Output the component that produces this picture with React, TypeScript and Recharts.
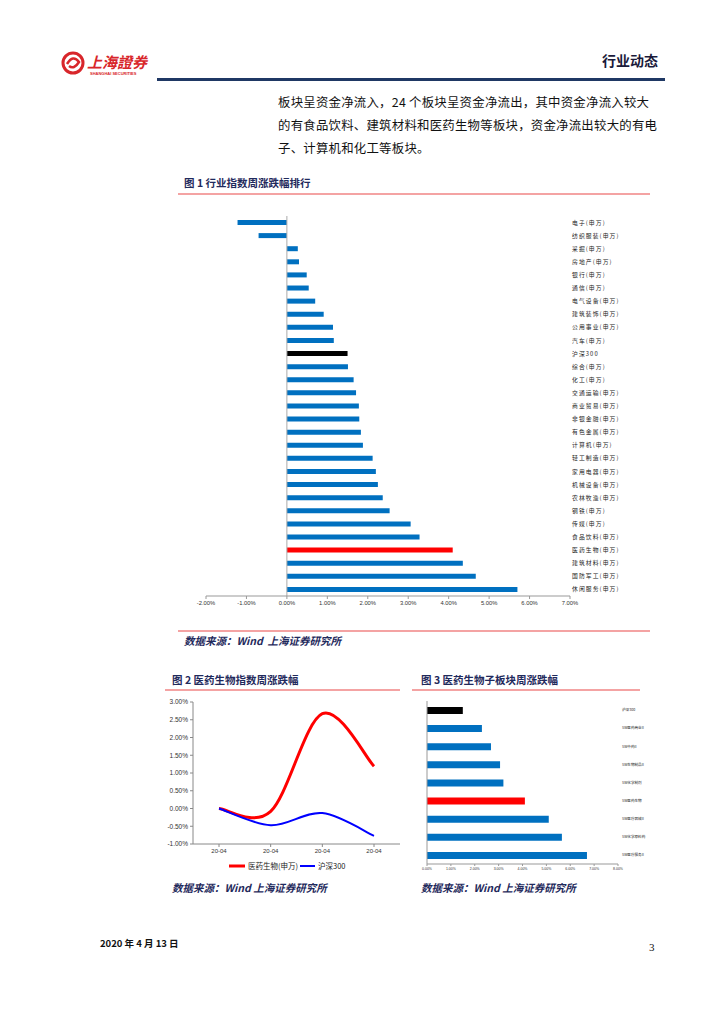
import React from 'react';
import {
  BarChart,
  Bar,
  Cell,
  LineChart,
  Line,
  XAxis,
  YAxis,
  ReferenceLine,
} from 'recharts';

// 图1 行业指数周涨跌幅排行
const industries = [
  '电子(申万)', '纺织服装(申万)', '采掘(申万)', '房地产(申万)', '银行(申万)',
  '通信(申万)', '电气设备(申万)', '建筑装饰(申万)', '公用事业(申万)', '汽车(申万)',
  '沪深300', '综合(申万)', '化工(申万)', '交通运输(申万)', '商业贸易(申万)',
  '非银金融(申万)', '有色金属(申万)', '计算机(申万)', '轻工制造(申万)', '家用电器(申万)',
  '机械设备(申万)', '农林牧渔(申万)', '钢铁(申万)', '传媒(申万)', '食品饮料(申万)',
  '医药生物(申万)', '建筑材料(申万)', '国防军工(申万)', '休闲服务(申万)',
];
const weeklyChange = [
  -1.22, -0.7, 0.27, 0.3, 0.49, 0.54, 0.7, 0.91, 1.14, 1.16,
  1.5, 1.51, 1.65, 1.71, 1.78, 1.79, 1.83, 1.88, 2.12, 2.2,
  2.25, 2.37, 2.54, 3.06, 3.28, 4.1, 4.35, 4.67, 5.7,
];
const fig1Ticks = [-2, -1, 0, 1, 2, 3, 4, 5, 6, 7];

// 图2 医药生物指数周涨跌幅
const dates = ['20-04', '20-04', '20-04', '20-04'];
const pharmaIndex = [0, -0.08, 2.67, 1.19];
const hs300Index = [0, -0.47, -0.13, -0.77];
const fig2Ticks = [-1, -0.5, 0, 0.5, 1, 1.5, 2, 2.5, 3];

// 图3 医药生物子板块周涨跌幅
const subSectors = [
  '沪深300', 'SW医药商业II', 'SW中药II', 'SW生物制品II', 'SW化学制剂',
  'SW医药生物', 'SW医疗器械II', 'SW化学原料药', 'SW医疗服务II',
];
const subChange = [1.5, 2.3, 2.68, 3.06, 3.2, 4.1, 5.1, 5.65, 6.7];
const fig3Ticks = [0, 1, 2, 3, 4, 5, 6, 7, 8];

const BLUE = '#0070C0';
const pct = (v: number) => `${v.toFixed(2)}%`;
const barColor = (name: string) =>
  name === '沪深300' ? '#000000' : name.startsWith('医药生物') || name === 'SW医药生物' ? '#FF0000' : BLUE;

const fig1Data = industries.map((name, i) => ({ name, value: weeklyChange[i] }));
const fig2Data = dates.map((d, i) => ({ date: d, pharma: pharmaIndex[i], hs300: hs300Index[i] }));
const fig3Data = subSectors.map((name, i) => ({ name, value: subChange[i] }));

const CJK = '"Noto Sans CJK SC", "Noto Sans", sans-serif';
const NAVY = '#1f2a5c';
const PINK = '#f4a3a3';

// Excel-style smoothed line (Catmull-Rom through the points)
const excelSmooth = (context: any) => {
  let pts: [number, number][] = [];
  return {
    areaStart() {},
    areaEnd() {},
    lineStart() {
      pts = [];
    },
    lineEnd() {
      if (!pts.length) return;
      context.moveTo(pts[0][0], pts[0][1]);
      for (let i = 0; i < pts.length - 1; i++) {
        const p0 = pts[Math.max(i - 1, 0)];
        const p1 = pts[i];
        const p2 = pts[i + 1];
        const p3 = pts[Math.min(i + 2, pts.length - 1)];
        context.bezierCurveTo(
          p1[0] + (p2[0] - p0[0]) / 6,
          p1[1] + (p2[1] - p0[1]) / 6,
          p2[0] - (p3[0] - p1[0]) / 6,
          p2[1] - (p3[1] - p1[1]) / 6,
          p2[0],
          p2[1],
        );
      }
    },
    point(x: number, y: number) {
      pts.push([+x, +y]);
    },
  };
};

const abs = (left: number, top: number, extra: React.CSSProperties = {}): React.CSSProperties => ({
  position: 'absolute',
  left,
  top,
  ...extra,
});

const LabelTick = ({ x, y, payload, size, spacing }: any) => (
  <text
    x={x}
    y={y}
    dy={size * 0.35}
    textAnchor="start"
    fontSize={size}
    letterSpacing={spacing}
    fill="#222"
    fontFamily={CJK}
  >
    {payload.value}
  </text>
);

export default function App() {
  return (
    <div style={{ position: 'absolute', left: 0, top: 0, width: 724, height: 1024, background: '#fff', fontFamily: CJK }}>
      {/* header */}
      <svg style={abs(60, 48)} width={90} height={32}>
        <circle cx={13} cy={15} r={10} fill="none" stroke="#d8262b" strokeWidth={3} />
        <path d="M7 16 Q13 6 19 14 Q14 22 9 18" fill="none" stroke="#d8262b" strokeWidth={2.5} />
        <text x={27} y={20} fontSize={15} fontWeight={700} fill="#d8262b" fontStyle="italic" fontFamily={CJK}>上海證券</text>
        <text x={30} y={27} fontSize={4} fontWeight={700} fill="#d8262b" fontFamily="Liberation Sans">SHANGHAI SECURITIES</text>
      </svg>
      <div style={abs(602, 50, { fontSize: 14, fontWeight: 700, color: '#1a1a3a' })}>行业动态</div>
      <div style={abs(157, 78, { width: 508, height: 3, background: '#1f3864' })} />

      {/* paragraph */}
      <div style={abs(278, 91, { width: 378, fontSize: 12.4, lineHeight: '23px', color: '#111' })}>
        <div style={{ whiteSpace: 'nowrap', letterSpacing: 0.25 }}>板块呈资金净流入，24 个板块呈资金净流出，其中资金净流入较大</div>
        <div style={{ whiteSpace: 'nowrap', letterSpacing: 0.25 }}>的有食品饮料、建筑材料和医药生物等板块，资金净流出较大的有电</div>
        <div style={{ whiteSpace: 'nowrap', letterSpacing: 0.25 }}>子、计算机和化工等板块。</div>
      </div>

      {/* figure 1 */}
      <div style={abs(184, 175, { fontSize: 10.5, fontWeight: 700, color: NAVY })}>图 1 行业指数周涨跌幅排行</div>
      <div style={abs(178, 193, { width: 472, height: 2, background: PINK })} />
      <div style={abs(186, 206)}>
        <BarChart
          width={464}
          height={406}
          data={fig1Data}
          layout="vertical"
          margin={{ top: 10, right: 0, bottom: 0, left: 20 }}
          barSize={5}
        >
          <XAxis
            type="number"
            domain={[-2, 7]}
            ticks={fig1Ticks}
            tickFormatter={pct}
            interval={0}
            height={16}
            tick={{ fontSize: 5.8, fill: '#333', fontFamily: 'Liberation Sans' }}
            axisLine={{ stroke: '#999' }}
            tickLine={{ stroke: '#999' }}
            tickSize={3}
          />
          <YAxis
            type="category"
            dataKey="name"
            orientation="right"
            width={80}
            interval={0}
            axisLine={false}
            tickLine={false}
            tickSize={0}
            tickMargin={2}
            tick={<LabelTick size={5.8} spacing={1.1} />}
          />
          <ReferenceLine x={0} stroke="#aaa" />
          <Bar dataKey="value" isAnimationActive={false}>
            {fig1Data.map((d) => (
              <Cell key={d.name} fill={barColor(d.name)} />
            ))}
          </Bar>
        </BarChart>
      </div>
      <div style={abs(178, 630, { width: 472, height: 2, background: PINK })} />
      <div style={abs(184, 633, { fontSize: 10.5, fontWeight: 700, fontStyle: 'italic', color: NAVY })}>数据来源：Wind&nbsp; 上海证券研究所</div>

      {/* figure 2 */}
      <div style={abs(172, 672, { fontSize: 10.5, fontWeight: 700, color: NAVY })}>图 2 医药生物指数周涨跌幅</div>
      <div style={abs(165, 689, { width: 235, height: 2, background: PINK })} />
      <div style={abs(150, 695)}>
        <LineChart width={255} height={163} data={fig2Data} margin={{ top: 7, right: 5, bottom: 0, left: 0 }}>
          <XAxis
            dataKey="date"
            padding={{ left: 26, right: 26 }}
            interval={0}
            height={14}
            tick={{ fontSize: 6, fill: '#333', fontFamily: 'Liberation Sans' }}
            axisLine={{ stroke: '#888' }}
            tickLine={{ stroke: '#888' }}
            tickSize={3}
          />
          <YAxis
            type="number"
            domain={[-1, 3]}
            ticks={fig2Ticks}
            tickFormatter={pct}
            interval={0}
            width={43}
            tick={{ fontSize: 6.5, fill: '#333', fontFamily: 'Liberation Sans' }}
            axisLine={{ stroke: '#888' }}
            tickLine={{ stroke: '#888' }}
            tickSize={3}
          />
          <Line type={excelSmooth as any} dataKey="pharma" stroke="#FF0000" strokeWidth={3} dot={false} isAnimationActive={false} />
          <Line type={excelSmooth as any} dataKey="hs300" stroke="#0000FF" strokeWidth={2} dot={false} isAnimationActive={false} />
        </LineChart>
      </div>
      <svg style={abs(229, 860)} width={130} height={12}>
        <line x1={0} y1={6} x2={16} y2={6} stroke="#FF0000" strokeWidth={3} />
        <text x={19} y={9} fontSize={7.5} fontFamily={CJK} fill="#222">医药生物(申万)</text>
        <line x1={71} y1={6} x2={86} y2={6} stroke="#0000FF" strokeWidth={2} />
        <text x={89} y={9} fontSize={7.5} fontFamily={CJK} fill="#222">沪深300</text>
      </svg>
      <div style={abs(172, 880, { fontSize: 10.5, fontWeight: 700, fontStyle: 'italic', color: NAVY })}>数据来源：Wind 上海证券研究所</div>

      {/* figure 3 */}
      <div style={abs(421, 672, { fontSize: 10.5, fontWeight: 700, color: NAVY })}>图 3 医药生物子板块周涨跌幅</div>
      <div style={abs(412, 689, { width: 228, height: 2, background: PINK })} />
      <div style={abs(420, 695)}>
        <BarChart
          width={240}
          height={179}
          data={fig3Data}
          layout="vertical"
          margin={{ top: 6, right: 0, bottom: 0, left: 7 }}
          barSize={7}
        >
          <XAxis
            type="number"
            domain={[0, 8]}
            ticks={fig3Ticks}
            tickFormatter={pct}
            interval={0}
            height={10}
            tick={{ fontSize: 3.5, fill: '#333', fontFamily: 'Liberation Sans' }}
            axisLine={{ stroke: '#999' }}
            tickLine={{ stroke: '#999' }}
            tickSize={2}
          />
          <YAxis
            type="category"
            dataKey="name"
            orientation="right"
            width={42}
            interval={0}
            axisLine={false}
            tickLine={false}
            tickSize={0}
            tickMargin={4}
            tick={<LabelTick size={3.6} spacing={0} />}
          />
          <ReferenceLine x={0} stroke="#999" />
          <Bar dataKey="value" isAnimationActive={false}>
            {fig3Data.map((d) => (
              <Cell key={d.name} fill={barColor(d.name)} />
            ))}
          </Bar>
        </BarChart>
      </div>
      <div style={abs(421, 880, { fontSize: 10.5, fontWeight: 700, fontStyle: 'italic', color: NAVY })}>数据来源：Wind 上海证券研究所</div>

      {/* footer */}
      <div style={abs(100, 936, { fontSize: 9.5, fontWeight: 700, color: '#111' })}>2020 年 4 月 13 日</div>
      <div style={abs(649, 941, { fontSize: 11, color: '#111', fontFamily: '"Liberation Serif", serif' })}>3</div>
    </div>
  );
}
